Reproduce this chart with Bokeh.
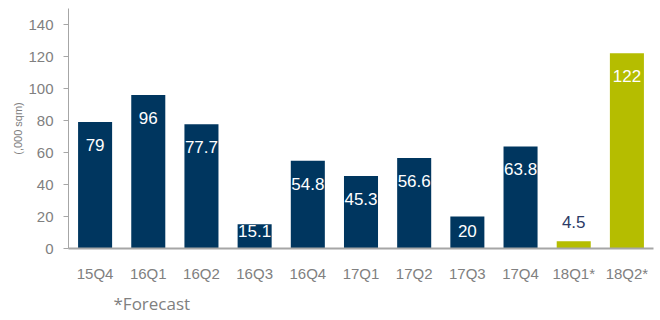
from bokeh.plotting import figure
from bokeh.models import Range1d, FactorRange, FixedTicker, ColumnDataSource, Title
from bokeh.embed import file_html
from bokeh.resources import INLINE
from bokeh.core.properties import value

categories = ["15Q4", "16Q1", "16Q2", "16Q3", "16Q4", "17Q1", "17Q2", "17Q3", "17Q4", "18Q1*", "18Q2*"]
values = [79, 96, 77.7, 15.1, 54.8, 45.3, 56.6, 20, 63.8, 4.5, 122]
labels = ["79", "96", "77.7", "15.1", "54.8", "45.3", "56.6", "20", "63.8", "4.5", "122"]
forecast = [False] * 9 + [True, True]
y_ticks = [0, 20, 40, 60, 80, 100, 120, 140]

NAVY = "#00365F"
GREEN = "#B5BD00"
GRAY = "#808080"
AXIS_GRAY = "#A6A6A6"

W, H = 660, 320
ML, MT, MB, MR = 68, 8, 72, 7
YMAX = 150
px_per_unit = (H - MT - MB) / YMAX

p = figure(width=W, height=H, x_range=FactorRange(factors=categories),
           y_range=Range1d(0, YMAX), output_backend="svg", toolbar_location=None,
           min_border_left=ML, min_border_top=MT, min_border_bottom=MB, min_border_right=MR)
p.outline_line_color = None
p.xgrid.grid_line_color = None
p.ygrid.grid_line_color = None

colors = [GREEN if f else NAVY for f in forecast]
src = ColumnDataSource(dict(x=categories, top=values, color=colors))
p.vbar(x="x", top="top", width=0.64, color="color", line_color=None, source=src)

# value labels
in_x, in_y, in_t = [], [], []
out_x, out_y, out_t = [], [], []
for c, v, t in zip(categories, values, labels):
    if v < 10:
        out_x.append(c); out_y.append(v); out_t.append(t)
    else:
        in_x.append(c)
        in_y.append(max(v - 23 / px_per_unit, 18 / px_per_unit))
        in_t.append(t)

p.text(x=in_x, y=in_y, text=in_t, text_color="white", text_align="center",
       text_baseline="middle", text_font=value("Liberation Sans"), text_font_size="17px")
p.text(x=out_x, y=out_y, text=out_t, text_color="#2B3A66", text_align="center",
       text_baseline="middle", y_offset=-19, text_font=value("Liberation Sans"), text_font_size="17px")

# y axis
ya = p.yaxis[0]
ya.ticker = FixedTicker(ticks=y_ticks)
ya.axis_line_color = AXIS_GRAY
ya.major_tick_line_color = AXIS_GRAY
ya.major_tick_out = 5
ya.major_tick_in = 0
ya.minor_tick_line_color = None
ya.major_label_text_font = "Liberation Sans"
ya.major_label_text_font_size = "15px"
ya.major_label_text_color = GRAY
ya.major_label_standoff = 10
ya.axis_label = "(,000 sqm)"
ya.axis_label_text_font = "Liberation Sans"
ya.axis_label_text_font_size = "11px"
ya.axis_label_text_font_style = "normal"
ya.axis_label_text_color = GRAY
ya.axis_label_standoff = 1

# x axis
xa = p.xaxis[0]
xa.axis_line_color = AXIS_GRAY
xa.axis_line_width = 2
xa.major_tick_line_color = None
xa.minor_tick_line_color = None
xa.major_label_text_font = "Liberation Sans"
xa.major_label_text_font_size = "15px"
xa.major_label_text_color = GRAY
xa.major_label_standoff = 10

note = Title(text="*Forecast", align="left", offset=45, standoff=11,
             text_font="Open Sans", text_font_size="17px", text_font_style="normal",
             text_color=GRAY)
p.add_layout(note, "below")

open("out.html", "w").write(file_html(p, INLINE))
